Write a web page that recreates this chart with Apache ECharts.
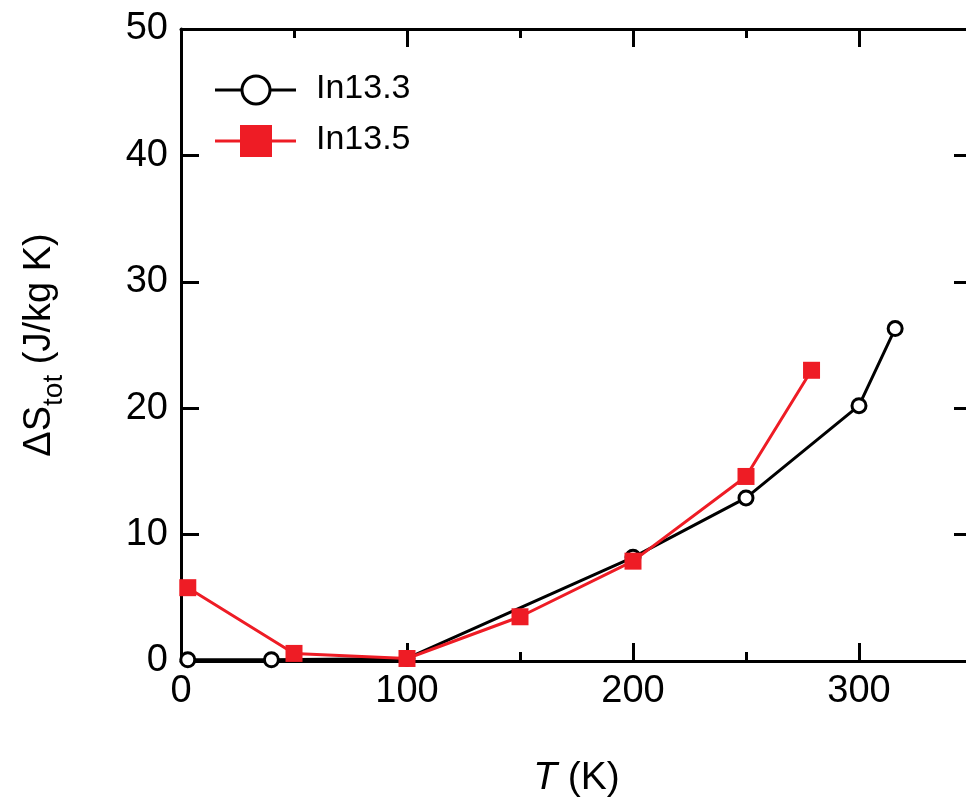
<!DOCTYPE html>
<html>
<head>
<meta charset="utf-8">
<script src="https://cdn.jsdelivr.net/npm/echarts@6/dist/echarts.min.js"></script>
<style>
  html, body { margin: 0; padding: 0; background: #fff; }
  #chart { width: 966px; height: 807px; }
</style>
</head>
<body>
<div id="chart"></div>
<script>
// Total entropy change vs temperature for two compositions
const seriesNames = ['In13.3', 'In13.5'];
const tIn133 = [3, 40, 100, 200, 250, 300, 316];
const sIn133 = [0.1, 0.1, 0.2, 8.2, 12.9, 20.2, 26.3];
const tIn135 = [3, 50, 100, 150, 200, 250, 279];
const sIn135 = [5.8, 0.6, 0.2, 3.5, 7.9, 14.6, 23.0];
const xTicks = [0, 100, 200, 300];
const yTicks = [0, 10, 20, 30, 40, 50];

const FONT = '"Liberation Sans", Arial, sans-serif';
const RED = '#ee1c25';

function pairs(xs, ys) { return xs.map((x, i) => [x, ys[i]]); }

const chart = echarts.init(document.getElementById('chart'), null, { renderer: 'canvas' });

const axisLine = { show: true, onZero: false, lineStyle: { color: '#000', width: 3 } };
const majorTick = { inside: true, length: 18, lineStyle: { width: 3, color: '#000' } };
const minorTick = { show: true, splitNumber: 2, length: 9, lineStyle: { width: 3, color: '#000' } };

chart.setOption({
  animation: false,
  backgroundColor: '#fff',
  grid: { left: 181, top: 29, width: 791, height: 632, outerBoundsMode: 'none', containLabel: false },
  xAxis: [{
    type: 'value', position: 'bottom', min: 0, max: 350, interval: 100,
    axisLine: axisLine, axisTick: majorTick, minorTick: minorTick,
    splitLine: { show: false },
    axisLabel: {
      margin: 12, fontSize: 38, color: '#000', fontFamily: FONT,
      formatter: v => (xTicks.indexOf(v) >= 0 ? String(v) : '')
    },
    name: '{i|T}{n| (K)}',
    nameLocation: 'middle', nameGap: 98,
    nameTextStyle: {
      rich: {
        i: { fontSize: 39, fontStyle: 'italic', fontFamily: FONT, color: '#000' },
        n: { fontSize: 39, fontFamily: FONT, color: '#000' }
      }
    }
  }, {
    type: 'value', position: 'top', min: 0, max: 350, interval: 100,
    axisLine: axisLine, axisTick: majorTick, minorTick: minorTick,
    splitLine: { show: false },
    axisLabel: { show: false }
  }],
  yAxis: [{
    type: 'value', position: 'left', min: 0, max: 50, interval: 10,
    axisLine: axisLine, axisTick: majorTick,
    splitLine: { show: false },
    axisLabel: {
      margin: 13, fontSize: 38, color: '#000', fontFamily: FONT,
      formatter: v => (yTicks.indexOf(v) >= 0 ? String(v) : '')
    },
    name: '{m|ΔS}{s|tot}{m| (J/kg K)}',
    nameLocation: 'middle', nameGap: 122, nameRotate: 90,
    nameTextStyle: {
      rich: {
        m: { fontSize: 38, fontFamily: FONT, color: '#000', verticalAlign: 'bottom', lineHeight: 44 },
        s: { fontSize: 28, fontFamily: FONT, color: '#000', verticalAlign: 'bottom', lineHeight: 30, padding: [0, 0, -9, 0] }
      }
    }
  }, {
    type: 'value', position: 'right', min: 0, max: 50, interval: 10,
    axisLine: axisLine, axisTick: majorTick,
    splitLine: { show: false },
    axisLabel: { show: false }
  }],
  series: [{
    name: seriesNames[0], type: 'line',
    data: pairs(tIn133, sIn133),
    symbol: 'circle', symbolSize: 14,
    lineStyle: { color: '#000', width: 3 },
    itemStyle: { color: '#fff', borderColor: '#000', borderWidth: 3 },
    z: 2
  }, {
    name: seriesNames[1], type: 'line',
    data: pairs(tIn135, sIn135),
    symbol: 'rect', symbolSize: 17,
    lineStyle: { color: RED, width: 3 },
    itemStyle: { color: RED, borderWidth: 0 },
    z: 3
  }],
  graphic: [
    // legend: In13.3
    { type: 'line', shape: { x1: 215, y1: 90, x2: 296, y2: 90 }, style: { stroke: '#000', lineWidth: 3 } },
    { type: 'circle', shape: { cx: 256, cy: 90, r: 14 }, style: { fill: '#fff', stroke: '#000', lineWidth: 3 } },
    { type: 'text', left: 316, top: 72, style: { text: seriesNames[0], font: '34px "Liberation Sans", Arial, sans-serif', fill: '#000' } },
    // legend: In13.5
    { type: 'line', shape: { x1: 215, y1: 141, x2: 296, y2: 141 }, style: { stroke: RED, lineWidth: 3 } },
    { type: 'rect', shape: { x: 240, y: 125, width: 32, height: 32 }, style: { fill: RED } },
    { type: 'text', left: 316, top: 123, style: { text: seriesNames[1], font: '34px "Liberation Sans", Arial, sans-serif', fill: '#000' } }
  ]
});
</script>
</body>
</html>
